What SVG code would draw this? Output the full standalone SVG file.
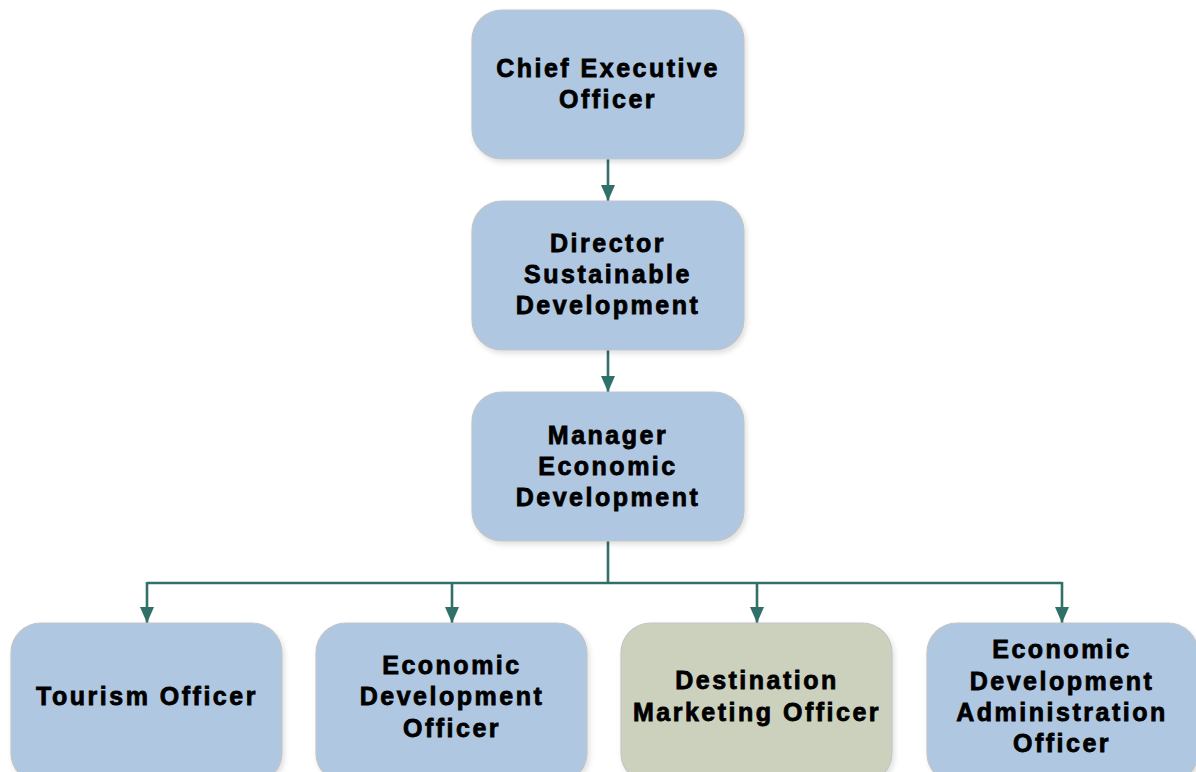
<svg xmlns="http://www.w3.org/2000/svg" width="1196" height="772" viewBox="0 0 1196 772">
  <style>
    .box { fill: #b0c7e2; stroke: #c2c6c8; stroke-width: 1.2; filter: url(#shadow); }
    .box.alt { fill: #ccd1bd; }
    .label { font-family: "Liberation Sans", Arial, sans-serif; font-weight: bold; font-size: 25px; letter-spacing: 2.5px; fill: #000; stroke: #000; stroke-width: 0.8px; text-anchor: middle; }
    .wire { fill: none; stroke: #2f7068; stroke-width: 2.6; }
  </style>
  <defs>
    <filter id="shadow" x="-10%" y="-10%" width="125%" height="125%">
      <feDropShadow dx="2" dy="3" stdDeviation="2.5" flood-color="#000" flood-opacity="0.12"/>
    </filter>
    <marker id="arrow" viewBox="0 0 16 14" refX="16" refY="7" markerWidth="16" markerHeight="14" markerUnits="userSpaceOnUse" orient="auto">
      <path d="M0,0 L16,7 L0,14 Z" fill="#2f7068"/>
    </marker>
  </defs>

  <rect width="1196" height="772" fill="#ffffff"/>

  <!-- reporting lines -->
  <g id="connectors">
    <path class="wire" d="M608,159 V201" marker-end="url(#arrow)"/>
    <path class="wire" d="M608,350 V392" marker-end="url(#arrow)"/>
    <path class="wire" d="M608,541 V583"/>
    <path class="wire" d="M147,583 H1062"/>
    <path class="wire" d="M147,582 V623" marker-end="url(#arrow)"/>
    <path class="wire" d="M452,583 V623" marker-end="url(#arrow)"/>
    <path class="wire" d="M757,583 V623" marker-end="url(#arrow)"/>
    <path class="wire" d="M1062,582 V623" marker-end="url(#arrow)"/>
  </g>

  <g id="ceo">
    <rect class="box" x="472" y="10" width="272" height="149" rx="30"/>
    <text class="label" x="608" y="77">Chief Executive</text>
    <text class="label" x="608" y="108">Officer</text>
  </g>

  <g id="director">
    <rect class="box" x="472" y="201" width="272" height="149" rx="30"/>
    <text class="label" x="608" y="252">Director</text>
    <text class="label" x="608" y="283">Sustainable</text>
    <text class="label" x="608" y="314">Development</text>
  </g>

  <g id="manager">
    <rect class="box" x="472" y="392" width="272" height="149" rx="30"/>
    <text class="label" x="608" y="444">Manager</text>
    <text class="label" x="608" y="475">Economic</text>
    <text class="label" x="608" y="506">Development</text>
  </g>

  <g id="tourism">
    <rect class="box" x="11" y="623" width="271" height="160" rx="30"/>
    <text class="label" x="147" y="705">Tourism Officer</text>
  </g>

  <g id="ed-officer">
    <rect class="box" x="316" y="623" width="271" height="160" rx="30"/>
    <text class="label" x="452" y="674">Economic</text>
    <text class="label" x="452" y="705">Development</text>
    <text class="label" x="452" y="737">Officer</text>
  </g>

  <g id="destination">
    <rect class="box alt" x="621" y="623" width="271" height="160" rx="30"/>
    <text class="label" x="757" y="689">Destination</text>
    <text class="label" x="757" y="721">Marketing Officer</text>
  </g>

  <g id="ed-admin">
    <rect class="box" x="927" y="623" width="271" height="160" rx="30"/>
    <text class="label" x="1062" y="658">Economic</text>
    <text class="label" x="1062" y="690">Development</text>
    <text class="label" x="1062" y="721">Administration</text>
    <text class="label" x="1062" y="752">Officer</text>
  </g>
</svg>
